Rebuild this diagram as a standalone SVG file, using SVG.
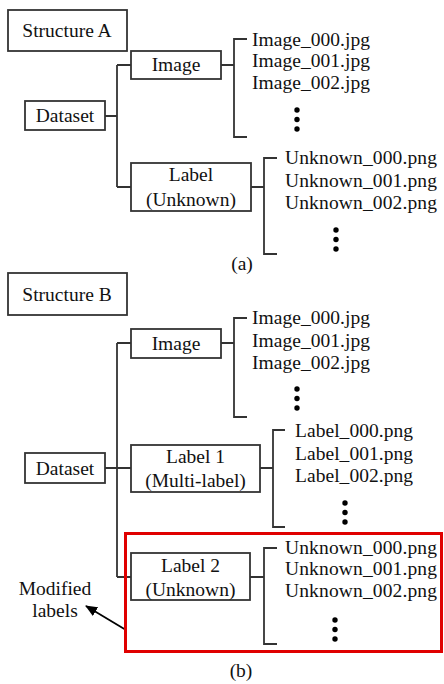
<svg xmlns="http://www.w3.org/2000/svg" width="444" height="684" viewBox="0 0 444 684">
<style>
text{font-family:"Liberation Serif","Times New Roman",serif;font-size:19.5px;fill:#111}
.box{fill:#fff;stroke:#333;stroke-width:1.8}
.ln{fill:none;stroke:#333;stroke-width:1.8}
.c{text-anchor:middle}
.dot{fill:#000}
</style>
<defs>
<marker id="ah" markerWidth="12" markerHeight="10" refX="11" refY="5" orient="auto" markerUnits="userSpaceOnUse">
<path d="M0,0 L12,5 L0,10 Z" fill="#000"/>
</marker>
</defs>
<rect width="444" height="684" fill="#fff"/>
<g id="connectors">
<path class="ln" d="M105,116 H117 M117,65 V187 M117,65 H131 M117,187 H131"/>
<path class="ln" d="M221,65 H234 M247,39 H234 V137 H247"/>
<path class="ln" d="M251,187 H264 M277,158 H264 V254 H277"/>
<path class="ln" d="M105,468 H131 M117,343 V577 M117,343 H131 M117,577 H131"/>
<path class="ln" d="M221,343 H234 M247,318 H234 V417 H247"/>
<path class="ln" d="M260,468 H273 M285,430 H273 V527 H285"/>
<path class="ln" d="M250,577 H264 M277,548 H264 V644 H277"/>
<line x1="126" y1="630" x2="86" y2="606" stroke="#000" stroke-width="1.8" marker-end="url(#ah)"/>
</g>
<g id="structA">
<rect class="box" x="8" y="10" width="119" height="41"/>
<text class="c" x="67" y="37">Structure A</text>
</g>
<g id="datasetA">
<rect class="box" x="25" y="101" width="80" height="29"/>
<text class="c" x="65" y="122">Dataset</text>
</g>
<g id="imageA">
<rect class="box" x="131" y="51" width="90" height="28"/>
<text class="c" x="176" y="71">Image</text>
</g>
<g id="imageFilesA">
<text x="252" y="46" textLength="118">Image_000.jpg</text>
<text x="252" y="67" textLength="118">Image_001.jpg</text>
<text x="252" y="89" textLength="118">Image_002.jpg</text>
<circle class="dot" cx="297" cy="110" r="2.7"/><circle class="dot" cx="297" cy="119.5" r="2.7"/><circle class="dot" cx="297" cy="129" r="2.7"/>
</g>
<g id="labelA">
<rect class="box" x="131" y="163" width="120" height="48"/>
<text class="c" x="191" y="181">Label</text>
<text class="c" x="191" y="206">(Unknown)</text>
</g>
<g id="labelFilesA">
<text x="285" y="164" textLength="152">Unknown_000.png</text>
<text x="285" y="187" textLength="152">Unknown_001.png</text>
<text x="285" y="209" textLength="152">Unknown_002.png</text>
<circle class="dot" cx="336" cy="230" r="2.7"/><circle class="dot" cx="336" cy="239.5" r="2.7"/><circle class="dot" cx="336" cy="249" r="2.7"/>
</g>
<text class="c" x="242" y="270">(a)</text>
<g id="structB">
<rect class="box" x="8" y="273" width="119" height="42"/>
<text class="c" x="67" y="301">Structure B</text>
</g>
<g id="datasetB">
<rect class="box" x="25" y="453" width="80" height="30"/>
<text class="c" x="65" y="475">Dataset</text>
</g>
<g id="imageB">
<rect class="box" x="131" y="329" width="90" height="29"/>
<text class="c" x="176" y="350">Image</text>
</g>
<g id="imageFilesB">
<text x="252" y="324" textLength="118">Image_000.jpg</text>
<text x="252" y="347" textLength="118">Image_001.jpg</text>
<text x="252" y="369" textLength="118">Image_002.jpg</text>
<circle class="dot" cx="297" cy="389" r="2.7"/><circle class="dot" cx="297" cy="398.5" r="2.7"/><circle class="dot" cx="297" cy="408" r="2.7"/>
</g>
<g id="label1B">
<rect class="box" x="131" y="445" width="129" height="47"/>
<text class="c" x="195.5" y="463">Label 1</text>
<text class="c" x="195.5" y="487">(Multi-label)</text>
</g>
<g id="label1FilesB">
<text x="295" y="437" textLength="118">Label_000.png</text>
<text x="295" y="460" textLength="118">Label_001.png</text>
<text x="295" y="482" textLength="118">Label_002.png</text>
<circle class="dot" cx="345" cy="503" r="2.7"/><circle class="dot" cx="345" cy="512.5" r="2.7"/><circle class="dot" cx="345" cy="522" r="2.7"/>
</g>
<g id="label2B">
<rect class="box" x="131" y="553" width="119" height="47"/>
<text class="c" x="190.5" y="572">Label 2</text>
<text class="c" x="190.5" y="596">(Unknown)</text>
</g>
<g id="label2FilesB">
<text x="285" y="554" textLength="152">Unknown_000.png</text>
<text x="285" y="575" textLength="152">Unknown_001.png</text>
<text x="285" y="597" textLength="152">Unknown_002.png</text>
<circle class="dot" cx="335" cy="620" r="2.7"/><circle class="dot" cx="335" cy="629.5" r="2.7"/><circle class="dot" cx="335" cy="639" r="2.7"/>
</g>
<g id="modified">
<rect x="125.5" y="533.5" width="316" height="118" fill="none" stroke="#e00000" stroke-width="3"/>
<text class="c" x="55" y="595">Modified</text>
<text class="c" x="55" y="617">labels</text>
</g>
<text class="c" x="241" y="677">(b)</text>
</svg>
